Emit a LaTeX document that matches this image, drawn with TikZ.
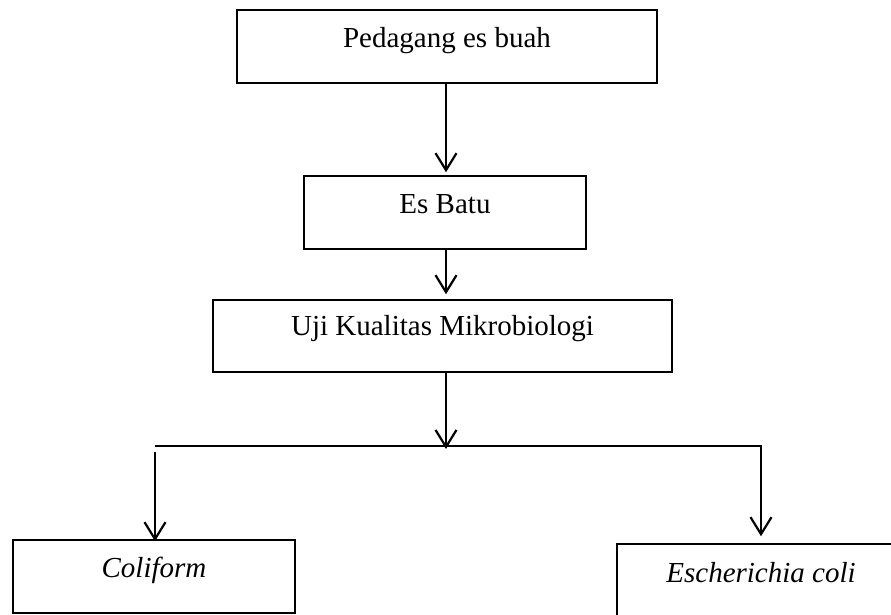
\documentclass[tikz,border=0pt]{standalone}
\usepackage{fontspec}
\setmainfont{Liberation Serif}
\usetikzlibrary{arrows.meta,positioning}

\begin{document}
\begin{tikzpicture}[x=1pt,y=-1pt,
  box/.style={draw,line width=1.5pt,inner sep=0pt,font=\fontsize{29}{34}\selectfont},
  arr/.style={line width=2.2pt,-{Straight Barb[length=17pt,width=21pt,line width=2.2pt]}},
  link/.style={line width=2.2pt}]
  \clip (0,0) rectangle (891,615);
  % boxes
  \node[box,minimum width=420pt,text height=38pt,text depth=35pt] (pedagang) at (447,46.5) {Pedagang es buah};
  \node[box,minimum width=282pt,text height=37pt,text depth=36pt] (esbatu) at (445,212.5) {Es Batu};
  \node[box,minimum width=459pt,text height=35pt,text depth=37pt] (uji) at (442.5,336) {Uji Kualitas Mikrobiologi};
  \node[box,minimum width=282pt,text height=37pt,text depth=36pt] (coliform) at (154,576.5) {\itshape Coliform};
  \node[box,minimum width=288pt,text height=38pt,text depth=43pt] (escherichia) at (761,584.5) {\itshape Escherichia coli};
  % branch points
  \coordinate (split) at (446,446);
  \coordinate (lft) at (155,446);
  \coordinate (rgt) at (761,446);
  % arrows
  \draw[arr] (split |- pedagang.south) -- ([yshift=3pt]split |- esbatu.north);
  \draw[arr] (split |- esbatu.south) -- ([yshift=5pt]split |- uji.north);
  \draw[arr] (split |- uji.south) -- ([yshift=-3pt]split);
  \draw[arr] (lft) -- (rgt) -- ([yshift=7pt]rgt |- escherichia.north);
  \draw[arr] ([yshift=-6pt]lft) -- ([yshift=-2pt]lft |- coliform.north);
\end{tikzpicture}
\end{document}
